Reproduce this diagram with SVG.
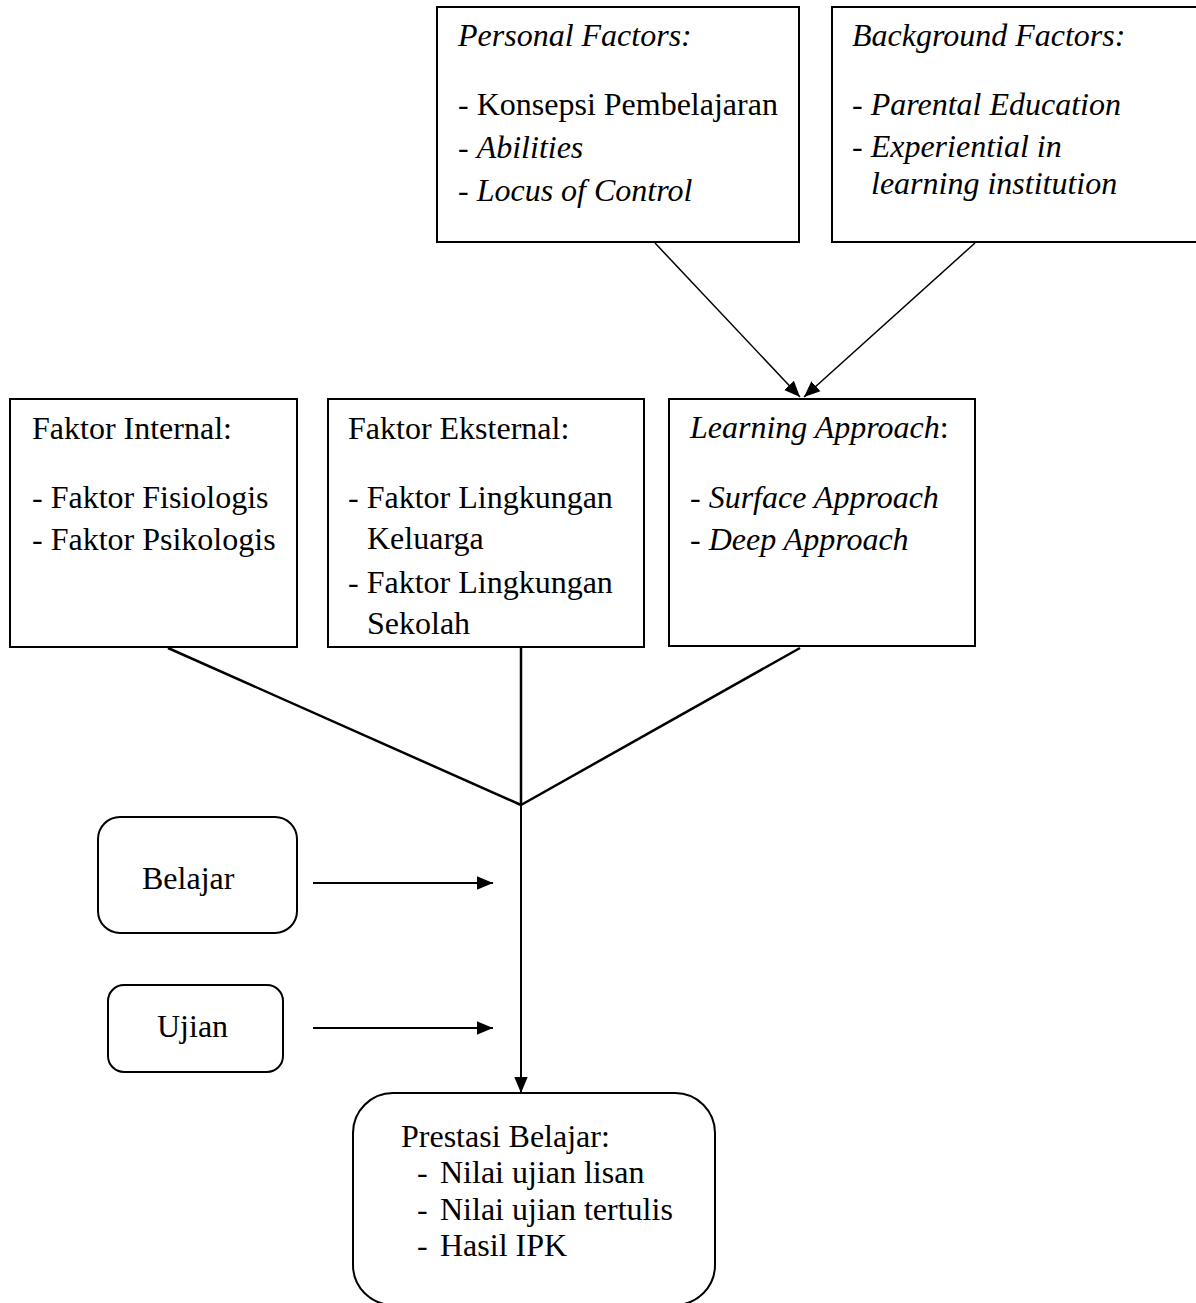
<svg xmlns="http://www.w3.org/2000/svg" width="1196" height="1303" viewBox="0 0 1196 1303">
<style>
text{font-family:'Liberation Serif','DejaVu Serif',serif;font-size:32px;fill:#000}
.i{font-style:italic}
.box{fill:#fff;stroke:#000;stroke-width:2}
.c{stroke:#000;fill:none}
</style>
<defs>
<marker id="ah2" viewBox="0 0 10 10" refX="10" refY="5" markerWidth="16" markerHeight="16" markerUnits="userSpaceOnUse" orient="auto"><path d="M0,0.8 L10,5 L0,9.2 z" fill="#000"/></marker>
</defs>
<rect width="1196" height="1303" fill="#fff"/>
<g id="connectors">
<line class="c" x1="655" y1="243" x2="800" y2="397" stroke-width="1.5" marker-end="url(#ah2)"/>
<line class="c" x1="975" y1="243" x2="804" y2="397" stroke-width="1.5" marker-end="url(#ah2)"/>
<line class="c" x1="168" y1="648" x2="521" y2="805" stroke-width="2.5"/>
<line class="c" x1="521" y1="648" x2="521" y2="805" stroke-width="2.5"/>
<line class="c" x1="800" y1="648" x2="521" y2="805" stroke-width="2.5"/>
<line class="c" x1="521" y1="805" x2="521" y2="1093" stroke-width="2" marker-end="url(#ah2)"/>
<line class="c" x1="313" y1="883" x2="493" y2="883" stroke-width="2" marker-end="url(#ah2)"/>
<line class="c" x1="313" y1="1028" x2="493" y2="1028" stroke-width="2" marker-end="url(#ah2)"/>
</g>
<g id="personal">
<rect class="box" x="437" y="7" width="362" height="235"/>
<text x="458" y="46" class="i">Personal Factors:</text>
<text x="458" y="115">- Konsepsi Pembelajaran</text>
<text x="458" y="158">- <tspan class="i">Abilities</tspan></text>
<text x="458" y="201">- <tspan class="i">Locus of Control</tspan></text>
</g>
<g id="background">
<rect class="box" x="832" y="7" width="366" height="235"/>
<text x="852" y="46" class="i">Background Factors:</text>
<text x="852" y="115">- <tspan class="i">Parental Education</tspan></text>
<text x="852" y="157">- <tspan class="i">Experiential in</tspan></text>
<text x="871" y="194" class="i">learning institution</text>
</g>
<g id="internal">
<rect class="box" x="10" y="399" width="287" height="248"/>
<text x="32" y="439">Faktor Internal:</text>
<text x="32" y="508">- Faktor Fisiologis</text>
<text x="32" y="550">- Faktor Psikologis</text>
</g>
<g id="eksternal">
<rect class="box" x="328" y="399" width="316" height="248"/>
<text x="348" y="439">Faktor Eksternal:</text>
<text x="348" y="508">- Faktor Lingkungan</text>
<text x="367" y="549">Keluarga</text>
<text x="348" y="593">- Faktor Lingkungan</text>
<text x="367" y="634">Sekolah</text>
</g>
<g id="learning">
<rect class="box" x="669" y="399" width="306" height="247"/>
<text x="690" y="438"><tspan class="i">Learning Approach</tspan>:</text>
<text x="690" y="508">- <tspan class="i">Surface Approach</tspan></text>
<text x="690" y="550">- <tspan class="i">Deep Approach</tspan></text>
</g>
<g id="belajar">
<rect class="box" x="98" y="817" width="199" height="116" rx="22"/>
<text x="142" y="889">Belajar</text>
</g>
<g id="ujian">
<rect class="box" x="108" y="985" width="175" height="87" rx="16"/>
<text x="157" y="1037">Ujian</text>
</g>
<g id="prestasi">
<rect class="box" x="353" y="1093" width="362" height="212" rx="40"/>
<text x="401" y="1147">Prestasi Belajar:</text>
<text x="417" y="1183">-<tspan x="440">Nilai ujian lisan</tspan></text>
<text x="417" y="1220">-<tspan x="440">Nilai ujian tertulis</tspan></text>
<text x="417" y="1256">-<tspan x="440">Hasil IPK</tspan></text>
</g>
</svg>
